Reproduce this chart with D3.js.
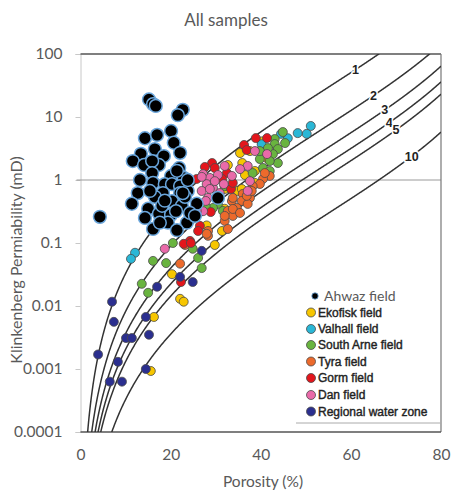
<!DOCTYPE html>
<html><head><meta charset="utf-8">
<script src="https://cdn.jsdelivr.net/npm/d3@7"></script>
<style>body{margin:0;background:#fff}svg{display:block}</style>
</head><body><svg id="c" width="452" height="491"></svg>
<script>
// ---- data: [porosity %, Klinkenberg permeability mD] ----
const ahwaz = [[15.2,19],[16.1,16],[16.7,15],[22.7,13],[21.6,10.7],[14.3,4.6],[17.0,5.2],[20.1,6.0],[20.7,3.9],[16.5,3.1],[13.4,2.6],[18.5,2.4],[22.1,2.7],[11.6,2.0],[14.1,1.73],[17.4,1.73],[15.9,2.0],[21.9,1.55],[15.9,1.29],[20.1,1.16],[22.9,1.08],[16.1,0.9],[18.7,0.86],[20.3,0.86],[22.1,0.8],[23.8,0.67],[22.1,0.62],[18.3,0.62],[12.7,0.62],[11.4,0.42],[16.5,0.54],[20.3,0.46],[22.5,0.39],[25.8,0.42],[30.5,0.52],[15.0,0.35],[17.4,0.29],[20.1,0.28],[14.3,0.25],[19.4,0.21],[23.6,0.21],[16.1,0.167],[21.4,0.16],[4.3,0.26],[18.1,0.39],[21.2,0.32],[24.3,0.3],[18.7,0.47],[15.4,0.67],[23.2,0.54],[17.6,0.21],[25.4,0.27],[13.2,1.0],[21.4,1.4],[23.8,1.0],[22.7,0.62]];
const ekofisk = [[35.4,2.68],[37.6,2.88],[35.9,1.86],[32.7,1.73],[38.7,1.39],[36.5,1.2],[38.7,0.9],[34.9,0.67],[32.0,0.72],[35.8,0.72],[32.0,0.35],[28.0,0.19],[31.4,0.155],[29.8,0.093],[20.3,0.032],[22.1,0.013],[22.9,0.0117],[16.3,0.0067],[15.6,0.00093],[40.2,4.1],[41.6,2.15]];
const valhall = [[51.1,7.2],[50.2,5.4],[48.2,5.55],[46.0,4.6],[44.5,5.4],[40.2,3.7],[12.1,0.07],[11.2,0.056]];
const southArne = [[44.9,5.77],[43.1,4.47],[43.1,3.72],[43.8,3.1],[42.7,2.58],[41.6,3.21],[39.8,2.15],[43.8,1.86],[42.0,2.0],[40.5,1.55],[39.8,2.88],[38.2,1.29],[32.0,0.8],[30.5,0.417],[31.6,0.323],[29.4,0.36],[27.8,0.373],[20.5,0.1],[16.1,0.052],[19.0,0.048],[13.6,0.0225],[15.0,0.0162],[24.9,0.081],[26.1,0.058],[26.9,0.04],[42.0,1.39],[45.4,3.86]];
const tyra = [[42.0,1.16],[40.5,1.04],[39.8,0.864],[38.2,0.8],[36.0,0.6],[37.6,0.52],[35.8,0.465],[33.6,0.465],[34.7,0.36],[37.1,0.417],[32.7,0.323],[33.8,0.269],[32.0,0.224],[32.7,0.167],[28.3,0.155],[28.3,0.13],[22.1,0.047],[36.9,0.56],[33.8,0.52],[38.0,0.67],[33.8,0.347],[32.0,0.269],[28.0,0.14],[23.2,0.093],[40.9,1.29],[35.4,0.3]];
const gorm = [[38.9,4.63],[41.4,4.63],[36.3,3.6],[36.9,2.99],[29.2,1.86],[27.6,1.61],[29.8,1.55],[25.8,1.04],[32.5,1.29],[33.4,0.72],[33.8,0.9],[28.9,0.31],[26.5,0.187],[24.3,0.108],[22.9,0.097],[24.5,0.1],[22.3,0.024],[26.1,0.155],[31.4,1.04]];
const dan = [[38.7,2.88],[41.4,2.58],[37.1,1.67],[37.6,0.96],[37.1,0.67],[27.2,1.24],[28.7,1.08],[30.5,1.2],[28.0,0.86],[29.4,0.75],[26.9,0.67],[30.9,0.62],[28.3,0.52],[27.2,0.32],[25.2,0.27],[18.7,0.081],[26.9,1.12],[29.8,0.96],[31.8,0.86],[28.7,0.72],[27.8,0.465],[25.8,0.32],[33.6,1.16],[35.4,1.49],[32.0,1.67]];
const waterZone = [[7.0,0.0117],[7.4,0.0056],[10.1,0.0031],[11.4,0.0031],[15.2,0.0035],[3.9,0.0017],[8.3,0.0013],[6.5,0.00063],[9.2,0.00063],[14.5,0.001],[14.5,0.0067],[17.0,0.0202],[22.1,0.029],[24.9,0.024],[26.9,0.075]];

const seriesNames = ["Ahwaz field","Ekofisk field","Valhall field","South Arne field","Tyra field","Gorm field","Dan field","Regional water zone"];
const seriesColors = ["#000000","#f7c600","#2ab7d6","#69b43f","#ec6a2c","#e3161c","#e96aa9","#2b2f8f"];
const seriesData = [ahwaz, ekofisk, valhall, southArne, tyra, gorm, dan, waterZone];

// iso specific-surface curves (modified Kozeny equation)
const curveLabels = [1,2,3,4,5,10];
const curveLabelPorosity = [61,65,67.5,68.5,70,73.5];
const kozenyConst = 138;

const xTicks = [0,20,40,60,80];
const yTicks = [0.0001,0.001,0.01,0.1,1,10,100];
const yTickLabels = ["0.0001","0.001","0.01","0.1","1","10","100"];

// ---- drawing ----
const svg = d3.select("#c");
const L=80.5, R=441, T=54, B=432;
const x = d3.scaleLinear().domain([0,80]).range([L,R]);
const y = d3.scaleLog().domain([0.0001,100]).range([B,T]);
const grey = "#595959";
const font = "Lato, 'Open Sans', sans-serif";

svg.append("rect").attr("width",452).attr("height",491).attr("fill","#fff");

svg.append("text").attr("x",226).attr("y",26).attr("text-anchor","middle")
  .attr("font-family",font).attr("font-size",17).attr("fill",grey).text("All samples");

const clip = svg.append("clipPath").attr("id","pc");
clip.append("rect").attr("x",L).attr("y",T).attr("width",R-L).attr("height",B-T);

// y axis
const yAxis = d3.axisLeft(y).tickValues(yTicks).tickFormat((d,i)=>yTickLabels[i]).tickSize(5).tickPadding(13);
const ga = svg.append("g").attr("transform",`translate(${L},0)`).call(yAxis);
ga.select(".domain").attr("stroke","#c8c8c8");
ga.selectAll(".tick line").attr("stroke","#c8c8c8");
ga.selectAll("text").attr("font-family",font).attr("font-size",15.5).attr("fill",grey);

// x axis labels (no ticks)
const xAxis = d3.axisBottom(x).tickValues(xTicks).tickSize(0).tickPadding(17);
const gx = svg.append("g").attr("transform",`translate(0,${B})`).call(xAxis);
gx.select(".domain").remove();
gx.selectAll("text").attr("font-family",font).attr("font-size",15.5).attr("fill",grey);

// gridline at 1 mD
svg.append("line").attr("x1",L-4).attr("x2",R).attr("y1",y(1)).attr("y2",y(1)).attr("stroke","#9a9a9a").attr("stroke-width",1);

// frame
svg.append("line").attr("x1",L).attr("x2",R).attr("y1",T).attr("y2",T).attr("stroke","#555").attr("stroke-width",1.5);
svg.append("line").attr("x1",R).attr("x2",R).attr("y1",T).attr("y2",B).attr("stroke","#777").attr("stroke-width",1.2);
svg.append("line").attr("x1",L).attr("x2",R).attr("y1",B).attr("y2",B).attr("stroke","#555").attr("stroke-width",1.5);

// curves
function cfac(phi){ return 1/(4*Math.cos(Math.acos(phi*64/Math.pow(Math.PI,3)-1)/3 + 4*Math.PI/3)+4); }
function perm(phi,s){ return kozenyConst*cfac(phi)*Math.pow(phi,3)/(Math.pow(1-phi,2)*s*s); }
const phis = d3.range(0.003,0.8005,0.001);
const line = d3.line().x(d=>x(d[0]*100)).y(d=>y(d[1]));
const gc = svg.append("g").attr("clip-path","url(#pc)");
curveLabels.forEach(s=>{
  gc.append("path").attr("d",line(phis.map(p=>[p,perm(p,s)]))).attr("fill","none").attr("stroke","#333").attr("stroke-width",1.5);
});
curveLabels.forEach((s,i)=>{
  const p = curveLabelPorosity[i]/100;
  svg.append("text").attr("x",x(p*100)).attr("y",y(perm(p,s))).attr("dy","0.35em").attr("text-anchor","middle")
    .attr("font-family","'Liberation Sans', Arial, sans-serif").attr("font-weight","bold").attr("font-size",12.5)
    .attr("fill","#222").attr("stroke","#fff").attr("stroke-width",3).attr("paint-order","stroke").text(s);
});

// points
const gp = svg.append("g");
for (let i=1;i<seriesData.length;i++){
  gp.selectAll(null).data(seriesData[i]).enter().append("circle")
    .attr("cx",d=>x(d[0])).attr("cy",d=>y(d[1])).attr("r",4.5)
    .attr("fill",seriesColors[i]).attr("stroke","#4a4a4a").attr("stroke-width",0.8);
}
gp.selectAll(null).data(ahwaz).enter().append("circle")
  .attr("cx",d=>x(d[0])).attr("cy",d=>y(d[1])).attr("r",6.4)
  .attr("fill","#000").attr("stroke","#6aa6dc").attr("stroke-width",1.5);

// legend
const lg = svg.append("g");
lg.append("line").attr("x1",296).attr("x2",R).attr("y1",423).attr("y2",423).attr("stroke","#aaa");
const rowY = [296,312.5,329,345,361.5,378,395,411.5];
seriesNames.forEach((n,i)=>{
  if (i===0){
    lg.append("circle").attr("cx",315).attr("cy",rowY[i]).attr("r",3.2).attr("fill","#000").attr("stroke","#6aa6dc").attr("stroke-width",0.8);
    lg.append("text").attr("x",324).attr("y",rowY[i]).attr("dy","0.35em").attr("font-family",font).attr("font-size",14).attr("fill",grey).text(n);
  } else {
    lg.append("circle").attr("cx",311).attr("cy",rowY[i]).attr("r",4.5).attr("fill",seriesColors[i]).attr("stroke","#4a4a4a").attr("stroke-width",0.8);
    lg.append("text").attr("x",318).attr("y",rowY[i]).attr("dy","0.35em").attr("font-family","'Liberation Sans', Arial, sans-serif")
      .attr("font-size",12).attr("fill","#222").attr("stroke","#222").attr("stroke-width",0.4).text(n);
  }
});

// axis titles
svg.append("text").attr("x",263).attr("y",487).attr("text-anchor","middle").attr("font-family",font).attr("font-size",15.5).attr("fill",grey).text("Porosity (%)");
svg.append("text").attr("transform","translate(22,260) rotate(-90)").attr("text-anchor","middle").attr("font-family",font).attr("font-size",16).attr("fill",grey).text("Klinkenberg Permiability (mD)");
</script></body></html>
